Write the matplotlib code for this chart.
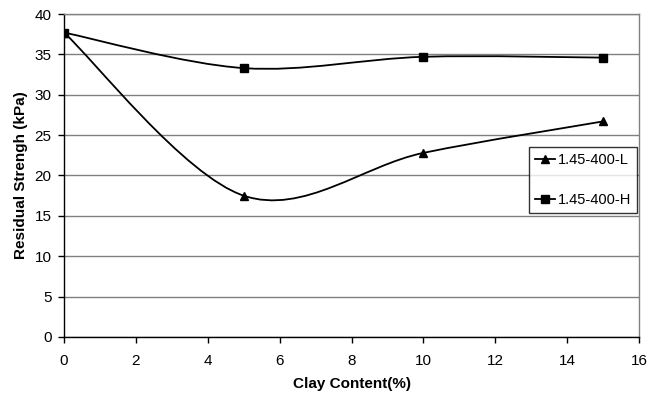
import numpy as np
import matplotlib
matplotlib.use("Agg")
import matplotlib.pyplot as plt
from matplotlib.path import Path
from matplotlib.patches import PathPatch

plt.rcParams['font.family'] = ['Liberation Sans', 'DejaVu Sans']

clay = [0, 5, 10, 15]
series_L = [37.7, 17.5, 22.8, 26.7]
series_H = [37.7, 33.3, 34.7, 34.6]
labels = ["1.45-400-L", "1.45-400-H"]
xticks = list(range(0, 17, 2))
yticks = list(range(0, 41, 5))


def smooth_path(x, y):
    # Excel-style smoothing: cubic Bezier with Catmull-Rom control points
    pts = np.column_stack([x, y]).astype(float)
    n = len(pts)
    verts = [pts[0]]
    codes = [Path.MOVETO]
    for i in range(n - 1):
        p0 = pts[i - 1] if i > 0 else pts[i]
        p1 = pts[i]
        p2 = pts[i + 1]
        p3 = pts[i + 2] if i + 2 < n else pts[i + 1]
        c1 = p1 + (p2 - p0) / 6.0
        c2 = p2 - (p3 - p1) / 6.0
        verts += [c1, c2, p2]
        codes += [Path.CURVE4] * 3
    return Path(verts, codes)


fig = plt.figure(figsize=(6.56, 3.98), dpi=100)
ax = fig.add_axes([0.0976, 0.1533, 0.8765, 0.8115])

ax.set_xlim(0, 16)
ax.set_ylim(0, 40)
ax.set_xticks(xticks)
ax.set_yticks(yticks)
ax.yaxis.grid(True, color='#808080', linewidth=1.0)
ax.set_axisbelow(True)

for s in ['top', 'right']:
    ax.spines[s].set_color('#808080')
    ax.spines[s].set_linewidth(1.0)
for s in ['left', 'bottom']:
    ax.spines[s].set_color('black')
    ax.spines[s].set_linewidth(1.0)

ax.tick_params(direction='out', length=4, width=1, labelsize=11, colors='black')
ax.tick_params(axis='x', pad=8)
ax.tick_params(axis='y', pad=5)

for yv, mk, lab in [(series_L, '^', labels[0]), (series_H, 's', labels[1])]:
    p = smooth_path(clay, yv)
    ax.add_patch(PathPatch(p, facecolor='none', edgecolor='black', linewidth=1.3, zorder=3))
    ax.plot(clay, yv, linestyle='none', marker=mk, color='black', markersize=5.5, zorder=4)
    ax.plot([], [], color='black', linewidth=1.3, marker=mk, markersize=5.5, label=lab)

ax.set_xlabel('Clay Content(%)', fontsize=11, fontweight='bold', labelpad=7)
ax.set_ylabel('Residual Strengh (kPa)', fontsize=11, fontweight='bold', labelpad=5)

leg = ax.legend(loc='upper left', bbox_to_anchor=(0.8087, 0.588), borderaxespad=0,
                frameon=True, fancybox=False,
                edgecolor='black', fontsize=10.5, handlelength=1.4, handletextpad=0.15,
                labelspacing=1.8, borderpad=0.4, markerscale=1.0)
leg.get_frame().set_linewidth(1.0)

fig.savefig('out.png', dpi=100)
